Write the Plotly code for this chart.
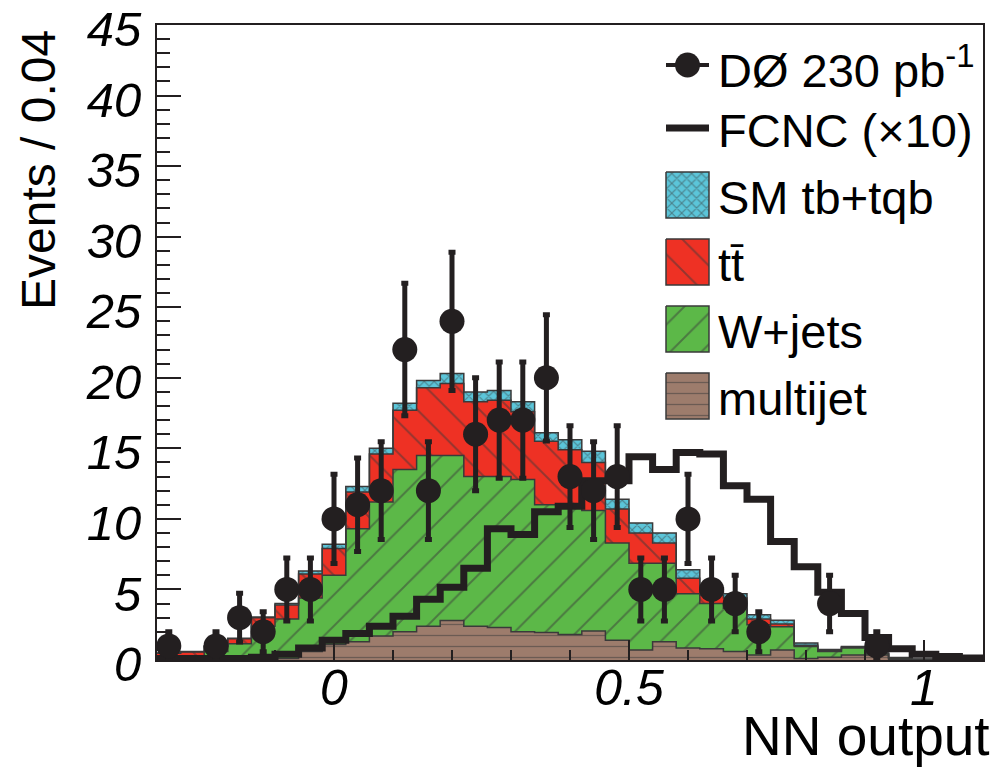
import numpy as np
import plotly.graph_objects as go

# ---------------- data (35 bins of width 0.04, from -0.30 to 1.10) ----------------
x_low = -0.30
bin_width = 0.04
n_bins = 35

data_counts = [1, 0, 1, 3, 2, 5, 5, 10, 11, 12, 22, 12, 24, 16, 17, 17, 20, 13, 12, 13,
               5, 5, 10, 5, 4, 2, 0, 0, 4, 0, 1, 0, 0, 0, 0]

multijet = [0, 0, 0, 0.03, 0.05, 0.1, 0.6, 1.1, 1.3, 1.7, 2.0, 2.4, 2.8, 2.4, 2.3, 2.0, 1.95,
            1.8, 2.05, 1.4, 0.7, 1.3, 0.85, 0.8, 0.6, 0.35, 0.7, 0.1, 0.2, 0.35, 0.35, 0.05, 0, 0, 0]

wjets = [0.1, 0.15, 0.6, 1.12, 2.35, 2.8, 3.8, 4.9, 8.0, 9.5, 11.5, 12.1, 11.7, 10.6, 10.7, 10.8,
         9.05, 9.2, 8.55, 6.9, 6.15, 5.55, 3.85, 3.2, 3.06, 2.15, 1.66, 0.85, 0.4, 0.5, 0.1, 0.1,
         0.05, 0, 0]

ttbar = [0.37, 0.42, 0.35, 0.35, 0.6, 1.0, 1.7, 1.9, 2.6, 3.4, 4.2, 4.8, 5.1, 5.3, 5.4, 4.8, 4.5,
         3.9, 3.4, 2.4, 2.15, 1.45, 1.1, 0.6, 0.74, 0.4, 0.2, 0.1, 0.05, 0.05, 0.02, 0, 0, 0, 0]

sm_single_top = [0.03, 0.03, 0.05, 0.05, 0.05, 0.1, 0.2, 0.3, 0.4, 0.4, 0.5, 0.5, 0.7, 0.7, 0.7,
                 0.7, 0.6, 0.7, 0.8, 0.7, 0.7, 0.7, 0.6, 0.5, 0.3, 0.3, 0.25, 0.15, 0.1, 0.05,
                 0.03, 0.02, 0, 0, 0]

fcnc_x10 = [0.1, 0.1, 0.1, 0.1, 0.2, 0.4, 0.85, 1.4, 1.88, 2.4, 3.1, 4.3, 5.15, 6.5, 9.3, 8.9,
            10.5, 10.9, 12.7, 12.7, 14.4, 13.5, 14.7, 14.6, 12.35, 11.4, 8.4, 6.6, 4.8, 3.3, 1.6,
            0.8, 0.4, 0.25, 0.15]

x_tick_vals = [0, 0.5, 1]
x_tick_text = ["0", "0.5", "1"]
y_tick_vals = [0, 5, 10, 15, 20, 25, 30, 35, 40, 45]

legend_labels = ["DØ 230 pb<sup>-1</sup>", "FCNC (×10)", "SM tb+tqb", "tt\u0304", "W+jets", "multijet"]

# ---------------- derived ----------------
edges = np.round(x_low + bin_width * np.arange(n_bins + 1), 4)
centers = edges[:-1] + bin_width / 2


def steps(v):
    v = list(v)
    return v + [v[-1]]


BLACK = "#231f20"
OUT = "#3a3a3a"
BROWN = "#9d7c6c"
GREEN = "#5cb848"
RED = "#ee3124"
CYAN = "#5bc5d9"

FONT = "Liberation Sans"

styles = {
    "multijet": dict(bg=BROWN, shape="-", size=11, sol=0.12),
    "wjets": dict(bg=GREEN, shape="/", size=22, sol=0.09),
    "ttbar": dict(bg=RED, shape="\\", size=22, sol=0.09),
    "st": dict(bg=CYAN, shape="x", size=7, sol=0.3),
}

fig = go.Figure()

for vals, key in [(multijet, "multijet"), (wjets, "wjets"), (ttbar, "ttbar"), (sm_single_top, "st")]:
    s = styles[key]
    fig.add_trace(go.Scatter(
        x=edges, y=steps(vals), mode="lines", stackgroup="bkg",
        line=dict(shape="hv", color=OUT, width=1.5),
        fillcolor=s["bg"],
        fillpattern=dict(shape=s["shape"], bgcolor=s["bg"], fgcolor=OUT, size=s["size"],
                         solidity=s["sol"]),
        showlegend=False, hoverinfo="skip",
    ))

# FCNC signal (x10)
fig.add_trace(go.Scatter(
    x=edges, y=steps(fcnc_x10), mode="lines",
    line=dict(shape="hv", color=BLACK, width=7),
    showlegend=False, hoverinfo="skip",
))

# data points
d = np.array(data_counts, dtype=float)
mask = d > 0
fig.add_trace(go.Scatter(
    x=centers[mask], y=d[mask], mode="markers",
    marker=dict(symbol="circle", size=25, color=BLACK),
    error_y=dict(type="data", array=np.sqrt(d[mask]), thickness=5, width=3.5, color=BLACK),
    error_x=dict(type="constant", value=bin_width / 2, thickness=5, width=0, color=BLACK),
    showlegend=False, hoverinfo="skip",
))

# ---------------- custom legend on a hidden pixel-scaled overlay axis ----------------
leg_x0, leg_x1 = 666, 709
leg_text_x = 716
leg_rows = [65, 128, 195, 262, 329, 396]
box_half = 23

# DØ entry
fig.add_trace(go.Scatter(x=[leg_x0, leg_x1], y=[leg_rows[0]] * 2, mode="lines",
                         line=dict(color=BLACK, width=4), xaxis="x2", yaxis="y2",
                         showlegend=False, hoverinfo="skip"))
fig.add_trace(go.Scatter(x=[(leg_x0 + leg_x1) / 2], y=[leg_rows[0]], mode="markers",
                         marker=dict(size=25, color=BLACK), xaxis="x2", yaxis="y2",
                         showlegend=False, hoverinfo="skip"))
# FCNC entry
fig.add_trace(go.Scatter(x=[leg_x0, leg_x1], y=[leg_rows[1]] * 2, mode="lines",
                         line=dict(color=BLACK, width=7), xaxis="x2", yaxis="y2",
                         showlegend=False, hoverinfo="skip"))
# filled entries
for row, key in zip(leg_rows[2:], ["st", "ttbar", "wjets", "multijet"]):
    s = styles[key]
    y0, y1 = row - box_half, row + box_half
    fig.add_trace(go.Scatter(
        x=[leg_x0, leg_x1, leg_x1, leg_x0, leg_x0], y=[y0, y0, y1, y1, y0],
        mode="lines", fill="toself", fillcolor=s["bg"],
        fillpattern=dict(shape=s["shape"], bgcolor=s["bg"], fgcolor=OUT, size=s["size"],
                         solidity=s["sol"]),
        line=dict(color=OUT, width=1.5), xaxis="x2", yaxis="y2",
        showlegend=False, hoverinfo="skip"))

annotations = []
for row, lab in zip(leg_rows, legend_labels):
    annotations.append(dict(x=leg_text_x, y=row + 2, xref="x2", yref="y2", text=lab,
                            showarrow=False, xanchor="left", yanchor="middle",
                            font=dict(family=FONT, size=47, color="black")))

# axis titles
annotations.append(dict(x=(38 - 157) / 826, y=(660 - 28) / 635, xref="paper", yref="paper",
                        text="Events / 0.04", textangle=-90, showarrow=False,
                        xanchor="center", yanchor="top",
                        font=dict(family=FONT, size=48, color="black")))
annotations.append(dict(x=(992 - 157) / 826, y=(660 - 736) / 635, xref="paper", yref="paper",
                        text="NN output", showarrow=False, xanchor="right", yanchor="middle",
                        font=dict(family=FONT, size=55, color="black")))

fig.update_layout(
    width=1000, height=768,
    margin=dict(l=157, r=17, t=25, b=108, autoexpand=False),
    paper_bgcolor="white", plot_bgcolor="white",
    showlegend=False,
    annotations=annotations,
    xaxis=dict(range=[edges[0], edges[-1]], tickvals=x_tick_vals, ticktext=x_tick_text,
               ticks="inside", ticklen=20, tickwidth=1.5, tickcolor=BLACK,
               minor=dict(dtick=0.1, tick0=0, ticks="inside", ticklen=10, tickwidth=1.5,
                          tickcolor=BLACK, showgrid=False),
               showgrid=False, zeroline=False, showline=True, linecolor=BLACK, linewidth=2,
               mirror=True, ticklabelstandoff=-17, ticklabeloverflow="allow", automargin=False,
               tickfont=dict(family=FONT, size=50, color="black", style="italic")),
    yaxis=dict(range=[0, 45], tickvals=y_tick_vals,
               ticks="inside", ticklen=24, tickwidth=1.5, tickcolor=BLACK,
               minor=dict(dtick=1, ticks="inside", ticklen=13, tickwidth=1.5,
                          tickcolor=BLACK, showgrid=False),
               showgrid=False, zeroline=False, showline=True, linecolor=BLACK, linewidth=2,
               mirror=True, ticklabelstandoff=4, ticklabelshift=4, ticklabeloverflow="allow",
               automargin=False,
               tickfont=dict(family=FONT, size=49, color="black", style="italic")),
    xaxis2=dict(range=[157, 983], overlaying="x", anchor="y2", visible=False),
    yaxis2=dict(range=[660, 25], overlaying="y", anchor="x2", visible=False),
)

fig.write_html("out.html")
